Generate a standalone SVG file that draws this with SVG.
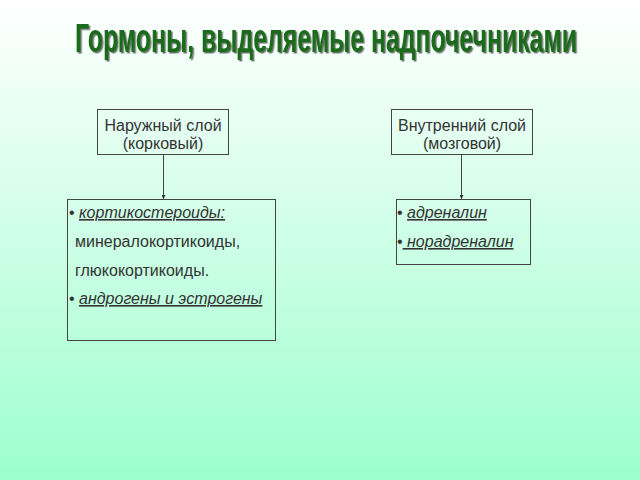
<svg xmlns="http://www.w3.org/2000/svg" width="640" height="480" viewBox="0 0 640 480">
<defs>
<linearGradient id="bg" x1="0" y1="0" x2="0" y2="1">
<stop offset="0" stop-color="#ffffff"/>
<stop offset="1" stop-color="#9cffcd"/>
</linearGradient>
<filter id="sh" x="-5%" y="-30%" width="110%" height="170%">
<feDropShadow dx="1.5" dy="1.5" stdDeviation="0.6" flood-color="#2a3a2a" flood-opacity="0.7"/>
</filter>
<marker id="ah" viewBox="0 0 6 6" refX="6" refY="3" markerWidth="4" markerHeight="4" orient="auto">
<path d="M0,0 L6,3 L0,6 z" fill="#333"/>
</marker>
</defs>
<style>
.box{fill:none;stroke:#444;stroke-width:1}
.t{font-family:"Liberation Sans",Arial,sans-serif;font-size:16px;fill:#333}
.c{text-anchor:middle}
.i{font-style:italic;text-decoration:underline}
.conn{stroke:#444;stroke-width:1;fill:none;marker-end:url(#ah)}
</style>
<rect width="640" height="480" fill="url(#bg)"/>
<g filter="url(#sh)">
<text transform="translate(75,52) scale(0.73,1)" x="0" y="0" textLength="687.7" lengthAdjust="spacingAndGlyphs" font-family="'Liberation Sans',Arial,sans-serif" font-weight="bold" font-size="40" fill="#1a6a1a">Гормоны, выделяемые надпочечниками</text>
</g>
<g id="connectors">
<line class="conn" x1="163.5" y1="155" x2="163.5" y2="199"/>
<line class="conn" x1="461.5" y1="155" x2="461.5" y2="199"/>
</g>
<g id="outer">
<rect class="box" x="97.5" y="109.5" width="131" height="45"/>
<text class="t c" x="163" y="131">Наружный слой</text>
<text class="t c" x="163" y="149">(корковый)</text>
</g>
<g id="inner">
<rect class="box" x="391.5" y="109.5" width="141" height="45"/>
<text class="t c" x="462" y="131">Внутренний слой</text>
<text class="t c" x="462" y="149">(мозговой)</text>
</g>
<g id="cortex">
<rect class="box" x="67.5" y="199.5" width="208" height="141"/>
<text class="t" x="69" y="218">• <tspan class="i">кортикостероиды:</tspan></text>
<text class="t" x="75" y="247">минералокортикоиды,</text>
<text class="t" x="75" y="276">глюкокортикоиды.</text>
<text class="t" x="69" y="304">• <tspan class="i">андрогены и эстрогены</tspan></text>
</g>
<g id="medulla">
<rect class="box" x="396.5" y="199.5" width="134" height="65"/>
<text class="t" x="397" y="218">• <tspan class="i">адреналин</tspan></text>
<text class="t" x="397" y="247">•<tspan class="i"> норадреналин</tspan></text>
</g>
</svg>
